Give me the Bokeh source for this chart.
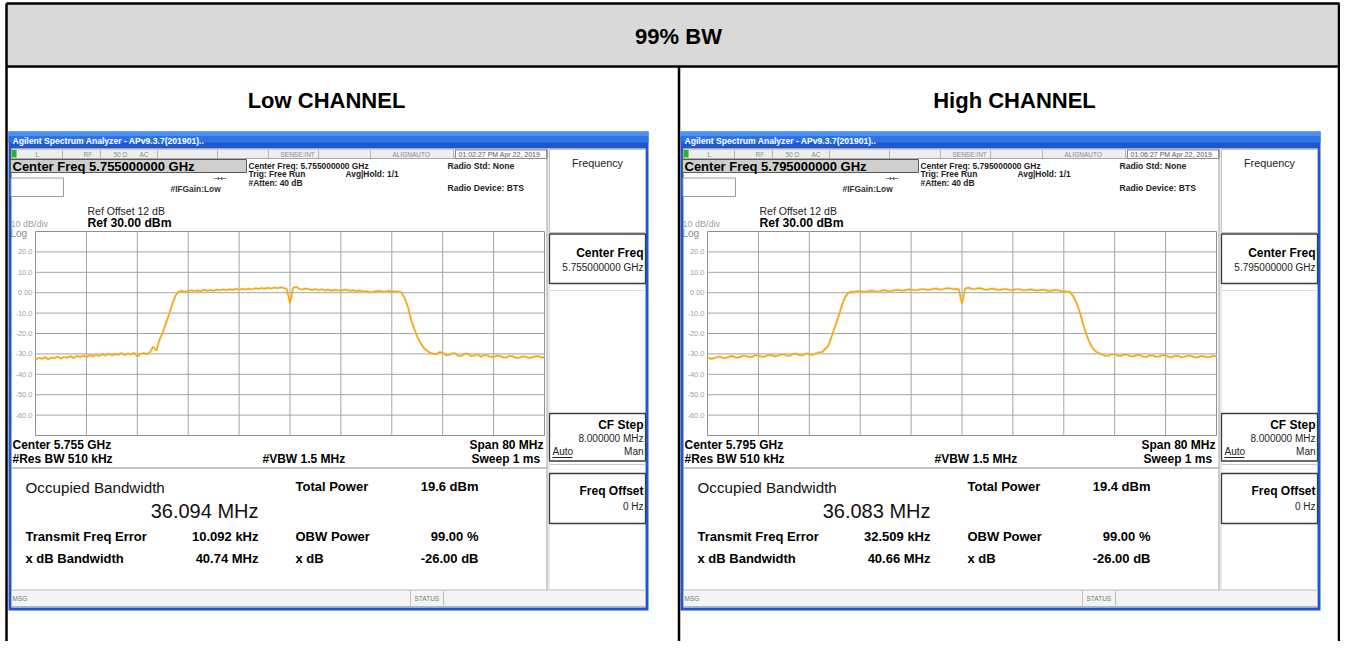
from bokeh.plotting import figure
from bokeh.models import Range1d
from bokeh.embed import file_html
from bokeh.resources import INLINE
from bokeh.core.properties import value

# ---------------- data ----------------
table_title = "99% BW"
channel_names = ["Low CHANNEL", "High CHANNEL"]
center_freq_ghz = ["5.755000000", "5.795000000"]
center_short_ghz = ["5.755", "5.795"]
timestamps = ["01:02:27 PM Apr 22, 2019", "01:06:27 PM Apr 22, 2019"]
occupied_bw = ["36.094 MHz", "36.083 MHz"]
total_power = ["19.6 dBm", "19.4 dBm"]
freq_error = ["10.092 kHz", "32.509 kHz"]
xdb_bandwidth = ["40.74 MHz", "40.66 MHz"]
obw_power = ["99.00 %", "99.00 %"]
x_db = ["-26.00 dB", "-26.00 dB"]
span_mhz = 80
ref_level_dbm = 30
db_per_div = 10
ytick_vals = [20, 10, 0, -10, -20, -30, -40, -50, -60]
ytick_labels = ["20.0", "10.0", "0.00", "-10.0", "-20.0", "-30.0", "-40.0", "-50.0", "-60.0"]

# frequency offset from the centre (MHz) of each trace point
freq_mhz = [-40, -39.5, -39, -38.5, -38, -37.5, -37, -36.5, -36, -35.5,
            -35, -34.5, -34, -33.5, -33, -32.5, -32, -31.5, -31, -30.5,
            -30, -29.5, -29, -28.5, -28, -27.5, -27, -26.5, -26, -25.5,
            -25, -24.5, -24, -23.5, -23, -22.5, -22, -21.5, -21, -20.5,
            -20, -19.5, -19, -18.5, -18, -17.5, -17, -16.5, -16, -15.5,
            -15, -14.5, -14, -13.5, -13, -12.5, -12, -11.5, -11, -10.5,
            -10, -9.5, -9, -8.5, -8, -7.5, -7, -6.5, -6, -5.5,
            -5, -4.5, -4, -3.5, -3, -2.5, -2, -1.5, -1, -0.5,
            0, 0.5, 1, 1.5, 2, 2.5, 3, 3.5, 4, 4.5,
            5, 5.5, 6, 6.5, 7, 7.5, 8, 8.5, 9, 9.5,
            10, 10.5, 11, 11.5, 12, 12.5, 13, 13.5, 14, 14.5,
            15, 15.5, 16, 16.5, 17, 17.5, 18, 18.5, 19, 19.5,
            20, 20.5, 21, 21.5, 22, 22.5, 23, 23.5, 24, 24.5,
            25, 25.5, 26, 26.5, 27, 27.5, 28, 28.5, 29, 29.5,
            30, 30.5, 31, 31.5, 32, 32.5, 33, 33.5, 34, 34.5,
            35, 35.5, 36, 36.5, 37, 37.5, 38, 38.5, 39, 39.5,
            40]

db_low = [-32.8, -31.9, -32.4, -31.6, -32.7, -31.8, -32.1, -31.3, -32.3, -31.5,
          -31.9, -31.1, -32.0, -30.9, -31.6, -30.8, -31.5, -30.6, -31.2, -30.4,
          -31.0, -30.2, -30.8, -29.9, -30.7, -30.0, -30.4, -29.6, -30.5, -29.8,
          -30.3, -29.5, -31.2, -30.0, -29.6, -30.1, -29.2, -26.5, -28.4, -23.0,
          -19.5, -15.0, -10.5, -5.5, -1.5, 0.6, 0.9, 0.4, 0.8, 1.2,
          0.7, 1.1, 0.8, 1.4, 1.0, 1.3, 0.9, 1.5, 1.2, 1.6,
          1.2, 1.7, 1.4, 1.9, 1.5, 1.8, 1.6, 2.0, 1.7, 2.2,
          1.9, 2.3, 2.0, 2.4, 2.1, 2.5, 2.2, 2.6, 2.3, 1.8,
          -5.2, 2.4, 2.9, 1.8, 1.6, 2.1, 1.7, 1.3, 1.8, 1.2,
          1.7, 1.1, 1.5, 1.0, 1.4, 1.2, 1.0, 1.5, 1.3, 0.9,
          1.2, 0.8, 1.1, 0.6, 0.7, 0.3, 0.4, 0.8, 0.9, 0.5,
          0.5, 0.9, 0.8, 0.4, 0.6, 0.2, -2.5, -6.5, -13.0, -17.5,
          -21.5, -24.5, -27.0, -28.3, -29.5, -29.9, -30.2, -29.1, -29.4, -30.6,
          -30.5, -29.7, -29.8, -31.0, -30.9, -29.9, -30.0, -31.1, -30.8, -30.3,
          -31.4, -30.5, -30.7, -31.5, -31.6, -30.8, -31.0, -31.7, -31.8, -31.0,
          -31.2, -31.9, -31.9, -31.3, -31.3, -32.0, -31.7, -31.2, -31.1, -31.8,
          -31.6]

db_high = [-31.6, -32.4, -32.2, -31.5, -31.4, -32.1, -31.9, -31.2, -31.1, -31.9,
           -31.7, -30.9, -30.9, -31.6, -31.5, -30.7, -30.8, -31.4, -31.3, -30.6,
           -30.5, -31.2, -31.0, -30.3, -30.2, -30.9, -30.8, -30.0, -29.9, -30.7,
           -30.6, -29.8, -30.1, -30.5, -29.7, -29.3, -29.2, -27.6, -26.0, -21.5,
           -17.0, -12.5, -7.5, -3.0, -0.4, 0.5, 0.3, 0.7, 0.8, 0.4,
           0.5, 0.9, 1.0, 0.6, 0.7, 1.1, 1.2, 0.8, 0.9, 1.3,
           1.4, 1.0, 1.1, 1.5, 1.6, 1.2, 1.3, 1.7, 1.8, 1.4,
           1.5, 1.9, 2.0, 1.6, 1.7, 2.1, 2.2, 1.8, 1.9, 1.6,
           -5.4, 2.0, 2.5, 1.9, 1.8, 2.2, 2.1, 1.6, 1.5, 1.9,
           1.9, 1.4, 1.4, 1.8, 1.8, 1.3, 1.3, 1.7, 1.7, 1.2,
           1.2, 1.5, 1.6, 1.1, 1.1, 1.4, 1.4, 0.9, 0.9, 1.3,
           1.3, 0.8, 0.8, 0.5, 0.4, -1.8, -5.0, -9.5, -15.0, -20.0,
           -24.0, -27.0, -28.8, -29.6, -30.3, -30.9, -30.9, -30.2, -30.2, -30.8,
           -31.0, -30.3, -30.4, -31.1, -31.2, -30.5, -30.6, -31.4, -31.5, -30.7,
           -30.8, -31.4, -31.3, -30.6, -30.7, -31.5, -31.6, -30.9, -31.0, -31.7,
           -31.4, -30.8, -30.9, -31.6, -31.7, -31.1, -31.2, -31.6, -31.5, -31.0,
           -31.3]

traces = [db_low, db_high]

# ---------------- layout (picture pixel coordinates) ----------------
W, H = 1340, 641
X0, Y0 = 0, 0
GX0, GX1, GY0, GY1 = 35, 544, 231, 435   # graticule of the left screen
DX = 672                                  # offset of the right screen
FONT = "Liberation Sans"

p = figure(width=W, height=H, x_range=Range1d(X0, X0 + W), y_range=Range1d(Y0 + H, Y0),
           output_backend="svg", toolbar_location=None, tools="", min_border=0,
           x_axis_type=None, y_axis_type=None, outline_line_color=None,
           background_fill_color="white", border_fill_color="white")

mpp = span_mhz / (GX1 - GX0)
top_db = ref_level_dbm
bot_db = ref_level_dbm - 10 * db_per_div
dpp = (top_db - bot_db) / (GY1 - GY0)
p.extra_x_ranges = {
    "f0": Range1d(-span_mhz / 2 - (GX0 - X0) * mpp, span_mhz / 2 + (X0 + W - GX1) * mpp),
    "f1": Range1d(-span_mhz / 2 - (GX0 + DX - X0) * mpp, span_mhz / 2 + (X0 + W - GX1 - DX) * mpp),
}
p.extra_y_ranges = {"db": Range1d(bot_db - (Y0 + H - GY1) * dpp, top_db + (GY0 - Y0) * dpp)}


def T(x, y, s, size, color="#000000", bold=False, align="left", baseline="middle", font=FONT):
    p.text(x=[x], y=[y], text=[s], text_font=value(font), text_font_size=f"{size}px",
           text_color=color, text_font_style="bold" if bold else "normal",
           text_align=align, text_baseline=baseline)


def R(l, r, t, b, fill=None, line=None, lw=1):
    p.quad(left=[l], right=[r], top=[t], bottom=[b], fill_color=fill,
           line_color=line, line_width=lw)


def L(x0, y0, x1, y1, color="#000000", w=1):
    p.segment(x0=[x0], y0=[y0], x1=[x1], y1=[y1], line_color=color, line_width=w)


# ---------------- table ----------------
R(6, 1339, 3, 66, fill="#d9d9d9")
T(678, 36, table_title, 22, bold=True, align="center")
L(6, 66, 1339, 66, "#000000", 2.5)
L(6, 3, 1339, 3, "#000000", 2.5)
L(6, 3, 6, 641, "#000000", 2.5)
L(1338.5, 3, 1338.5, 641, "#000000", 2.5)
L(678.5, 66, 678.5, 641, "#000000", 2.5)
T(326, 100, channel_names[0], 22, bold=True, align="center")
T(1014, 100, channel_names[1], 22, bold=True, align="center")


def screen(k, dx):
    # window frame and title bar
    R(8 + dx, 648 + dx, 131, 610, fill="#1f58cc")
    R(8 + dx, 648 + dx, 131, 136, fill="#4a93f4")
    R(8 + dx, 648 + dx, 136, 142, fill="#2d72e6")
    T(12 + dx, 140, "Agilent Spectrum Analyzer - APv9.3.7(201901)..", 8.6, "#ffffff", bold=True)
    R(11 + dx, 645 + dx, 148, 607, fill="#ffffff")

    # status row
    R(11 + dx, 547 + dx, 148.5, 158, fill="#eeeeee", line="#a8a8a8")
    R(11.5 + dx, 16 + dx, 149.5, 157, fill="#27b327")
    for sx in (62, 100, 157, 217, 268, 318, 370, 453):
        L(sx + dx, 149.5, sx + dx, 157.5, "#b5b5b5")
    for sx, s in ((35, "L"), (83, "RF"), (113, "50 \u03a9"), (139, "AC"),
                  (280, "SENSE:INT"), (392, "ALIGNAUTO")):
        T(sx + dx, 153.5, s, 6.5, "#8c8c8c")
    R(455 + dx, 546 + dx, 149.5, 158, fill="#fbfbfb", line="#8a8a8a")
    T(458 + dx, 153.8, timestamps[k], 7, "#5a5a5a")

    # measurement header
    R(10 + dx, 246 + dx, 159, 172, fill="#cfcfcf", line="#5a5a5a")
    T(12 + dx, 166, f"Center Freq  {center_freq_ghz[k]} GHz", 13, bold=True)
    R(10.5 + dx, 63 + dx, 177.5, 196, fill="#ffffff", line="#9c9c9c")
    T(248 + dx, 165, f"Center Freq: {center_freq_ghz[k]} GHz", 8.4, "#222222", bold=True)
    T(248 + dx, 173.5, "Trig: Free Run", 8.4, "#222222", bold=True)
    T(248 + dx, 182, "#Atten: 40 dB", 8.4, "#222222", bold=True)
    T(345 + dx, 173.5, "Avg|Hold: 1/1", 8.4, "#222222", bold=True)
    T(447 + dx, 165, "Radio Std: None", 8.6, "#222222", bold=True)
    T(447 + dx, 187, "Radio Device: BTS", 8.6, "#222222", bold=True)
    T(170 + dx, 188, "#IFGain:Low", 8.4, "#333333", bold=True)
    T(213 + dx, 178, "\u2192\u2190", 8, "#333333", font="DejaVu Sans")
    T(87 + dx, 210, "Ref Offset 12 dB", 10.5, "#222222")
    T(87 + dx, 222, f"Ref {ref_level_dbm:.2f} dBm", 12.2, bold=True)
    T(10 + dx, 223, f"{db_per_div} dB/div", 9, "#a0a0a0")
    T(10 + dx, 232.5, "Log", 10, "#8c8c8c")

    # graticule
    name = f"f{k}"
    R(GX0 + dx, GX1 + dx, GY0, GY1, fill="#ffffff", line="#8f8f8f")
    for i in range(1, 10):
        f = -span_mhz / 2 + i * span_mhz / 10
        p.segment(x0=[f], y0=[bot_db], x1=[f], y1=[top_db], x_range_name=name,
                  y_range_name="db", line_color="#a4a4a4", line_width=1)
    p.segment(x0=[-span_mhz / 2] * len(ytick_vals), y0=ytick_vals,
              x1=[span_mhz / 2] * len(ytick_vals), y1=ytick_vals,
              x_range_name=name, y_range_name="db", line_color="#a4a4a4", line_width=1)
    p.text(x=[GX0 + dx - 3] * len(ytick_vals), y=ytick_vals, text=ytick_labels,
           y_range_name="db", text_font=value(FONT), text_font_size="7.5px",
           text_color="#a3a3a3", text_align="right", text_baseline="middle")
    # trace
    p.line(freq_mhz, traces[k], x_range_name=name, y_range_name="db",
           line_color="#f7cf6a", line_width=2.6, line_alpha=0.7)
    p.line(freq_mhz, traces[k], x_range_name=name, y_range_name="db",
           line_color="#eda312", line_width=1.2)

    # footer of graticule
    T(12 + dx, 444, f"Center  {center_short_ghz[k]} GHz", 12, bold=True)
    T(12 + dx, 458, "#Res BW  510 kHz", 12, bold=True)
    T(262 + dx, 458, "#VBW  1.5 MHz", 12, bold=True)
    T(543 + dx, 444, f"Span {span_mhz} MHz", 12, bold=True, align="right")
    T(543 + dx, 458, "Sweep  1 ms", 12, bold=True, align="right")
    L(11 + dx, 467.5, 546 + dx, 467.5, "#c4c4c4", 2)

    # results
    T(25 + dx, 487, "Occupied Bandwidth", 15.2, "#111111")
    T(258 + dx, 510, occupied_bw[k], 20, "#111111", align="right")
    T(295 + dx, 486, "Total Power", 13, bold=True)
    T(478 + dx, 486, total_power[k], 13, bold=True, align="right")
    T(25 + dx, 536, "Transmit Freq Error", 13, bold=True)
    T(258 + dx, 536, freq_error[k], 13, bold=True, align="right")
    T(295 + dx, 536, "OBW Power", 13, bold=True)
    T(478 + dx, 536, obw_power[k], 13, bold=True, align="right")
    T(25 + dx, 558, "x dB Bandwidth", 13, bold=True)
    T(258 + dx, 558, xdb_bandwidth[k], 13, bold=True, align="right")
    T(295 + dx, 558, "x dB", 13, bold=True)
    T(478 + dx, 558, x_db[k], 13, bold=True, align="right")

    # soft keys
    L(546.5 + dx, 148, 546.5 + dx, 589, "#9a9a9a", 1)
    L(548.5 + dx, 148, 548.5 + dx, 589, "#d2d2d2", 1)
    R(549 + dx, 645 + dx, 149, 232, fill="#ffffff", line="#c4c4c4")
    T(597 + dx, 162, "Frequency", 10.8, "#222222", align="center")
    R(549 + dx, 645 + dx, 233.5, 283, fill="#ffffff", line="#3c3c3c", lw=1.3)
    T(643 + dx, 252, "Center Freq", 12, bold=True, align="right")
    T(643 + dx, 267, f"{center_freq_ghz[k]} GHz", 10, "#222222", align="right")
    L(549 + dx, 290, 645 + dx, 290, "#dddddd", 1)
    R(549 + dx, 645 + dx, 413, 460.5, fill="#ffffff", line="#3c3c3c", lw=1.3)
    T(643 + dx, 424, "CF Step", 12, bold=True, align="right")
    T(643 + dx, 438, "8.000000 MHz", 10, "#222222", align="right")
    T(552 + dx, 451, "Auto", 10, "#222222")
    L(552 + dx, 457, 572 + dx, 457, "#222222", 1)
    T(643 + dx, 451, "Man", 10, "#222222", align="right")
    L(549 + dx, 464, 645 + dx, 464, "#cccccc", 1)
    R(549 + dx, 645 + dx, 473, 523, fill="#ffffff", line="#3c3c3c", lw=1.3)
    T(643 + dx, 490, "Freq Offset", 12, bold=True, align="right")
    T(643 + dx, 506, "0 Hz", 10, "#222222", align="right")

    # status bar
    R(11 + dx, 645 + dx, 589.5, 606, fill="#f4f4f4", line="#b8b8b8")
    L(410 + dx, 590, 410 + dx, 606, "#c0c0c0")
    L(443 + dx, 590, 443 + dx, 606, "#c0c0c0")
    T(12 + dx, 597.5, "MSG", 6.5, "#7a7a7a")
    T(414 + dx, 597.5, "STATUS", 6.5, "#7a7a7a")


screen(0, 0)
screen(1, DX)

open("out.html", "w").write(file_html(p, INLINE))
